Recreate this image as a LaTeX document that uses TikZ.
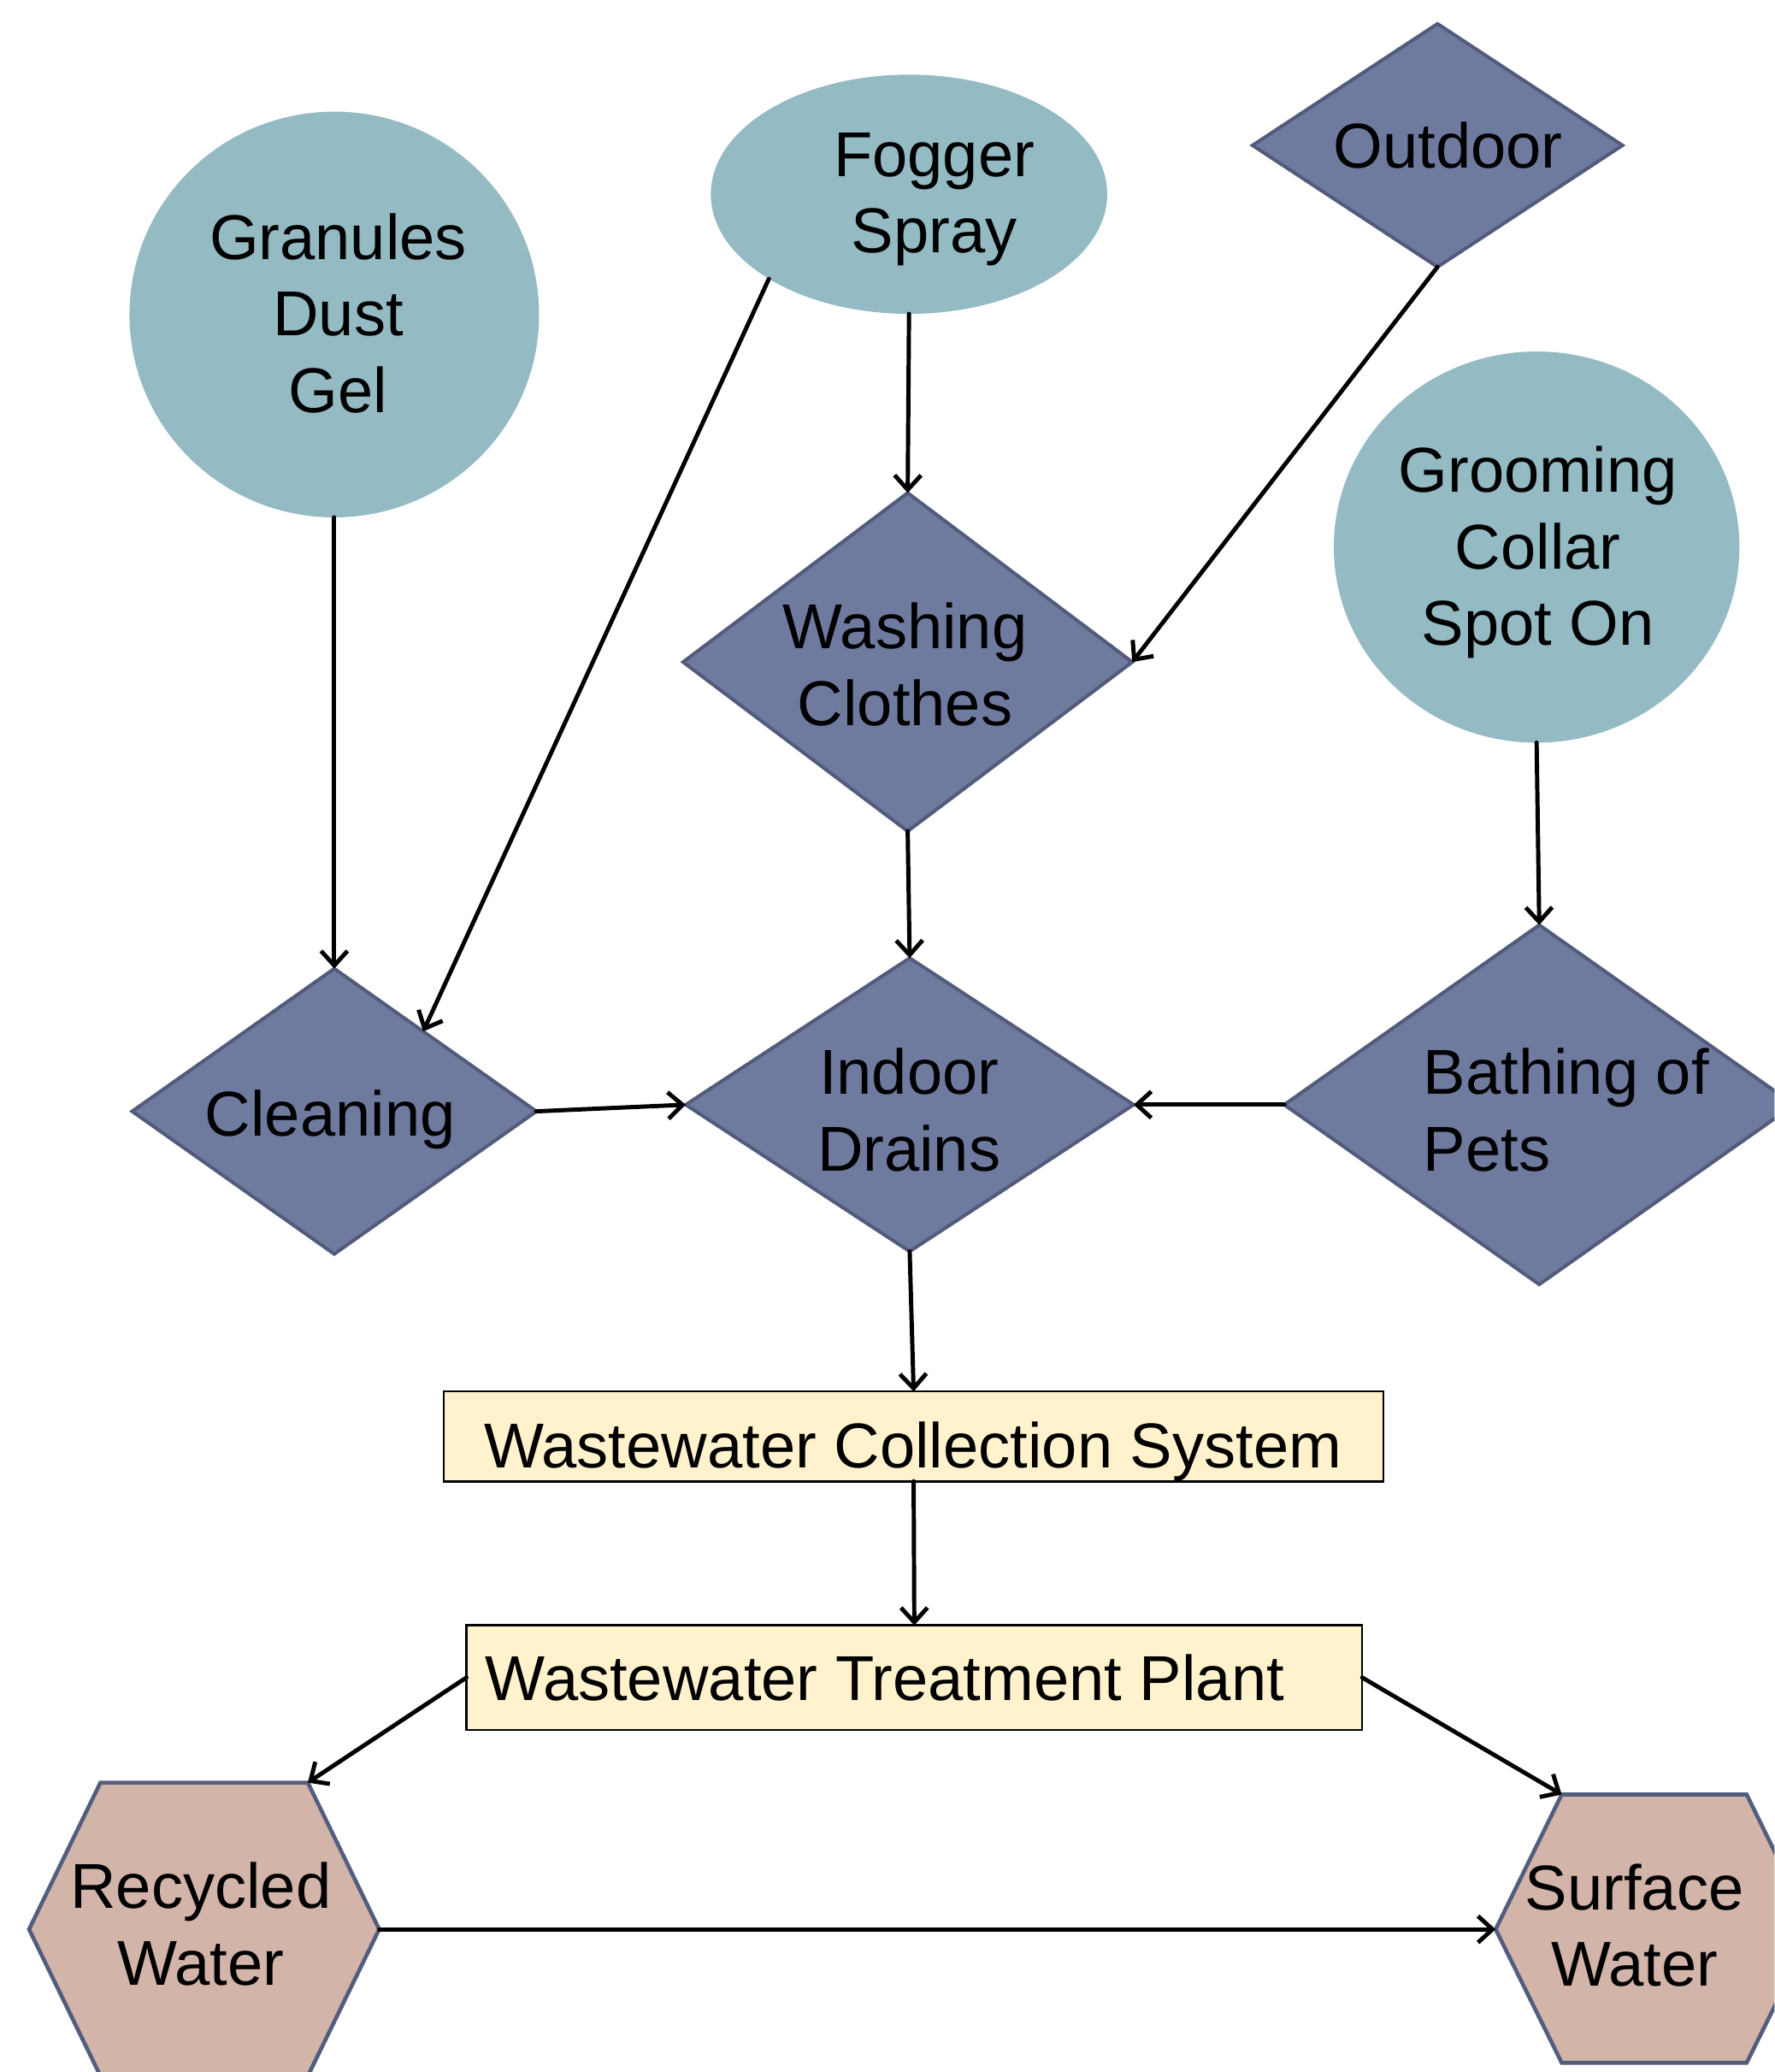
\documentclass[tikz,border=0pt]{standalone}
\usepackage{fontspec}
\setmainfont{Liberation Sans}
\usetikzlibrary{shapes.geometric,arrows.meta,calc}
\definecolor{circfill}{HTML}{94BAC3}
\definecolor{diafill}{HTML}{6F7A9F}
\definecolor{diaedge}{HTML}{525B7B}
\definecolor{boxfill}{HTML}{FFF2CC}
\definecolor{hexfill}{HTML}{D2B4A9}
\definecolor{hexedge}{HTML}{535D7C}
\begin{document}
\begin{tikzpicture}[x=0.5pt,y=-0.5pt,
  blob/.style={ellipse, fill=circfill, draw=none, inner sep=0pt, outer sep=0pt},
  dia/.style={diamond, fill=diafill, draw=diaedge, line width=1.3pt, inner sep=0pt, outer sep=0pt},
  lbl/.style={font=\fontsize{24}{29}\selectfont, align=center, inner sep=0pt, text=black},
  wbox/.style={rectangle, fill=boxfill, draw=black, line width=0.8pt, inner sep=0pt, outer sep=0pt},
  hexa/.style={fill=hexfill, draw=hexedge, line width=1.5pt, line join=miter},
  conn/.style={line width=1.6pt, line cap=round, line join=round, -{Straight Barb[length=5.5pt,width=10pt]}}
]
\useasboundingbox (0,0) rectangle (1343,1568);
\begin{scope}
\clip (0,0) rectangle (1343,1568);
\fill[white] (0,0) rectangle (1343,1568);

% round sources
\node[blob, minimum width=155pt, minimum height=153.5pt] (gran) at (253,238) {};
\node[blob, minimum width=150pt, minimum height=90.5pt] (fog) at (688,147) {};
\node[blob, minimum width=153.5pt, minimum height=148pt] (groom) at (1163,414) {};

% diamonds
\node[dia, minimum width=140pt, minimum height=92pt] (out) at (1088,110) {};
\node[dia, minimum width=170pt, minimum height=128pt] (wash) at (687,501) {};
\node[dia, minimum width=153pt, minimum height=108pt] (clean) at (253,841) {};
\node[dia, minimum width=169.5pt, minimum height=111pt] (indoor) at (688.5,836) {};
\node[dia, minimum width=193pt, minimum height=136pt] (bath) at (1165,836) {};

% boxes
\node[wbox, minimum width=355.5pt, minimum height=34pt] (wcs) at (691.5,1087) {};
\node[wbox, minimum width=339pt, minimum height=39.5pt] (wtp) at (692,1269.5) {};

% hexagons
\coordinate (rec-nw) at (76,1349);
\coordinate (rec-ne) at (233,1349);
\coordinate (rec-e) at (287,1460);
\coordinate (rec-se) at (233,1571);
\coordinate (rec-sw) at (76,1571);
\coordinate (rec-w) at (22,1460);
\draw[hexa] (rec-nw) -- (rec-ne) -- (rec-e) -- (rec-se) -- (rec-sw) -- (rec-w) -- cycle;
\coordinate (surf-nw) at (1182,1358);
\coordinate (surf-ne) at (1322,1358);
\coordinate (surf-e) at (1372,1460);
\coordinate (surf-se) at (1322,1561);
\coordinate (surf-sw) at (1182,1561);
\coordinate (surf-w) at (1132,1460);
\draw[hexa] (surf-nw) -- (surf-ne) -- (surf-e) -- (surf-se) -- (surf-sw) -- (surf-w) -- cycle;

% labels
\node[lbl] (granT) at (256,237) {Granules\\Dust\\Gel};
\node[lbl] (fogT) at (707,151) {Fogger\\Spray};
\node[lbl] (outT) at (1096,110) {Outdoor};
\node[lbl] (groomT) at (1164,418) {Grooming\\Collar\\Spot On};
\node[lbl] (washT) at (685,503) {Washing\\Clothes};
\node[lbl] (cleanT) at (250,847) {Cleaning};
\node[lbl] (indoorT) at (688,840) {Indoor\\Drains};
\node[lbl, anchor=west, align=left] (bathT) at (1077,840) {Bathing of\\Pets};
\node[lbl, anchor=base] (wcsT) at (691,1111) {Wastewater Collection System};
\node[lbl, anchor=base west] (wtpT) at (367,1287) {Wastewater Treatment Plant};
\node[lbl] (recT) at (152,1456) {Recycled\\Water};
\node[lbl] (surfT) at (1237,1457) {Surface\\Water};

% connectors
\draw[conn] (gran.south) -- (clean.north);
\draw[conn] (fog.south west) -- ($(clean.north)!0.44!(clean.east)$);
\draw[conn] (fog.south) -- (wash.north);
\draw[conn] (out.south) -- (wash.east);
\draw[conn] (groom.south) -- (bath.north);
\draw[conn] (wash.south) -- (indoor.north);
\draw[conn] (clean.east) -- (indoor.west);
\draw[conn] (bath.west) -- (indoor.east);
\draw[conn] (indoor.south) -- (wcs.north);
\draw[conn] (wcs.south) -- (wtp.north);
\draw[conn] (wtp.west) -- (rec-ne);
\draw[conn] (wtp.east) -- (surf-nw);
\draw[conn] (rec-e) -- (surf-w);
\end{scope}
\end{tikzpicture}
\end{document}
